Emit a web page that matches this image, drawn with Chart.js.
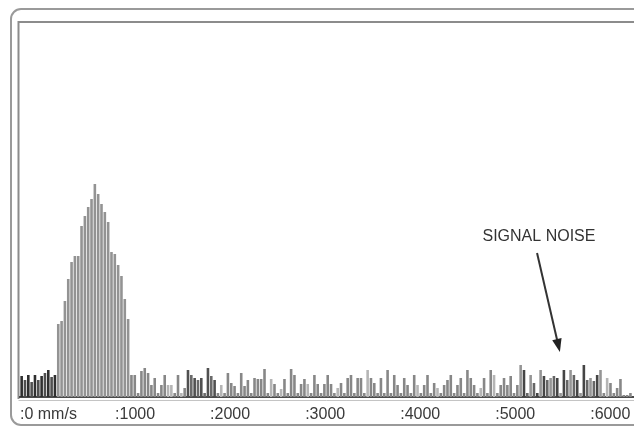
<!DOCTYPE html>
<html>
<head>
<meta charset="utf-8">
<script src="https://cdn.jsdelivr.net/npm/chart.js@4"></script>
<style>
  html, body { margin: 0; padding: 0; background: #fff; }
  #wrap { width: 634px; height: 428px; }
</style>
</head>
<body>
<div id="wrap"><canvas id="speedChart"></canvas></div>
<script>
// bin width of the histogram, mm/s
var binWidth = 35;

// counts per bin
var counts = [
  21, 17, 22, 15, 22, 17, 21, 24, 27, 20, 22,
  73, 76, 96, 118, 135, 141, 141, 171, 181, 190, 198, 213, 203, 193, 185, 175, 145, 143, 132, 121, 98, 78,
  22, 22, 4, 26, 29, 24, 12, 19, 4, 12, 22, 12, 12, 4, 22, 4, 9, 27, 22, 19, 17, 19, 4, 29, 21, 17, 4, 12, 4, 24, 14, 11, 4, 24, 11, 17, 4, 19,
  18, 18, 28, 4, 18, 13, 4, 8, 18, 4, 28, 22, 4, 13, 18, 13, 4, 22, 13, 4, 13, 22, 13,
  4, 9, 14, 4, 19, 22, 4, 19, 19, 4, 27, 19, 14, 4, 19,
  4, 27, 4, 22, 12, 4, 19, 12, 4, 22, 12, 4, 12, 22, 4, 14, 9, 4, 12, 17, 22, 4, 12, 19, 4, 27, 19, 12, 4, 9, 19, 4, 27, 22, 4, 12, 19,
  12, 21, 4, 12, 32, 27, 4, 22, 14, 4, 27, 21, 17, 19, 21, 19, 4, 27, 17, 27, 22, 17, 4, 32, 17, 19, 16, 22, 27, 4, 19, 14, 4, 9, 18, 2, 2, 4
];

var tickValues = [0, 1000, 2000, 3000, 4000, 5000, 6000];
var axisUnit = 'mm/s';
var noteText = 'SIGNAL NOISE';

// annotation anchor points in data units
var note = { textX: 5460, textY: 160, fromX: 5440, fromY: 144, toX: 5680, toY: 45 };

var lightBins = [44, 45, 48, 60, 75, 78, 86, 95, 104, 119, 125, 138, 142, 157, 163, 176];

function barColor(i) {
  if (i <= 10) return i % 2 ? '#4f4f4f' : '#2f2f2f';
  if (i <= 32) return '#939393';
  if (i >= 150 && i <= 174) return i % 3 === 0 ? '#959595' : (i % 2 ? '#454545' : '#666666');
  if (i >= 50 && i <= 58) return i % 2 ? '#6a6a6a' : '#505050';
  if (lightBins.indexOf(i) >= 0) return '#b5b5b5';
  return '#878787';
}

var points = counts.map(function (c, i) { return { x: (i + 0.5) * binWidth, y: c }; });
var colors = counts.map(function (c, i) { return barColor(i); });

var framePlugin = {
  id: 'frame',
  beforeDraw: function (chart) {
    var ctx = chart.ctx, a = chart.chartArea;
    ctx.save();
    ctx.fillStyle = '#ffffff';
    ctx.fillRect(0, 0, chart.width, chart.height);
    // outer rounded frame
    ctx.strokeStyle = '#9a9a9a';
    ctx.lineWidth = 2;
    ctx.beginPath();
    ctx.roundRect(a.left - 9, a.top - 14, chart.width + 40, 416, 10);
    ctx.stroke();
    // inner frame
    ctx.strokeStyle = '#8c8c8c';
    ctx.beginPath();
    ctx.moveTo(a.left - 1.5, a.bottom + 2);
    ctx.lineTo(a.left - 1.5, a.top - 1);
    ctx.lineTo(chart.width + 5, a.top - 1);
    ctx.stroke();
    ctx.strokeStyle = '#c4c4c4';
    ctx.lineWidth = 1;
    ctx.beginPath();
    ctx.moveTo(a.left - 1.5, a.bottom + 3.5);
    ctx.lineTo(chart.width, a.bottom + 3.5);
    ctx.stroke();
    ctx.restore();
  },
  afterDraw: function (chart) {
    var ctx = chart.ctx, xs = chart.scales.x, ys = chart.scales.y;
    var tx = xs.getPixelForValue(note.textX), ty = ys.getPixelForValue(note.textY);
    var x0 = xs.getPixelForValue(note.fromX), y0 = ys.getPixelForValue(note.fromY);
    var x1 = xs.getPixelForValue(note.toX), y1 = ys.getPixelForValue(note.toY);
    ctx.save();
    ctx.fillStyle = '#333333';
    ctx.font = '16px "Liberation Sans", Arial, sans-serif';
    ctx.textAlign = 'center';
    ctx.textBaseline = 'middle';
    ctx.fillText(noteText, tx, ty);
    // arrow
    var ang = Math.atan2(y1 - y0, x1 - x0);
    var head = 14;
    ctx.strokeStyle = '#333333';
    ctx.lineWidth = 2;
    ctx.beginPath();
    ctx.moveTo(x0, y0);
    ctx.lineTo(x1 - Math.cos(ang) * head * 0.8, y1 - Math.sin(ang) * head * 0.8);
    ctx.stroke();
    ctx.fillStyle = '#222222';
    ctx.beginPath();
    ctx.moveTo(x1, y1);
    ctx.lineTo(x1 - head * Math.cos(ang - 0.35), y1 - head * Math.sin(ang - 0.35));
    ctx.lineTo(x1 - head * Math.cos(ang + 0.35), y1 - head * Math.sin(ang + 0.35));
    ctx.closePath();
    ctx.fill();
    ctx.restore();
  }
};

var ctx = document.getElementById('speedChart').getContext('2d');
var speedChart = new Chart(ctx, {
  type: 'bar',
  data: {
    datasets: [{
      data: points,
      backgroundColor: colors,
      borderWidth: 0,
      barPercentage: 0.78,
      categoryPercentage: 1.0
    }]
  },
  options: {
    responsive: true,
    maintainAspectRatio: false,
    animation: false,
    layout: { padding: { left: 20, top: 23, right: 0, bottom: 5 } },
    plugins: { legend: { display: false }, tooltip: { enabled: false } },
    scales: {
      x: {
        type: 'linear',
        min: 0,
        max: 6460,
        offset: false,
        grid: { display: false, drawTicks: false },
        border: { display: true, color: '#4a4a4a', width: 2 },
        afterBuildTicks: function (scale) {
          scale.ticks = tickValues.map(function (v) { return { value: v }; });
        },
        afterFit: function (scale) {
          scale.paddingLeft = 0;
          scale.paddingRight = 0;
          scale.height = 26;
        },
        ticks: {
          align: 'start',
          padding: 8,
          maxRotation: 0,
          autoSkip: false,
          color: '#3a3a3a',
          font: { family: '"Liberation Sans", Arial, sans-serif', size: 16 },
          callback: function (v) { return v === 0 ? ':0 ' + axisUnit : ':' + v; }
        }
      },
      y: {
        display: false,
        min: 0,
        max: 374
      }
    }
  },
  plugins: [framePlugin]
});
</script>
</body>
</html>
